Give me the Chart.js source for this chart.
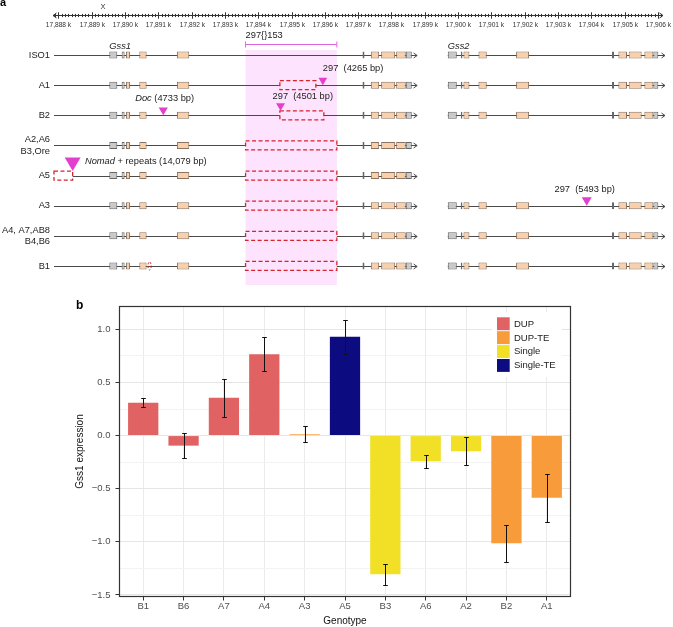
<!DOCTYPE html>
<html>
<head>
<meta charset="utf-8">
<script src="https://cdn.jsdelivr.net/npm/chart.js@4.4.0/dist/chart.umd.min.js"></script>
<style>
html, body { margin: 0; padding: 0; background: #fff; }
#wrap { position: relative; width: 673px; height: 627px; }
#geneBox { position: absolute; left: 0; top: 0; width: 673px; height: 290px; }
#barBox { position: absolute; left: 0; top: 290px; width: 673px; height: 337px; }
</style>
</head>
<body>
<div id="wrap">
  <div id="geneBox"><canvas id="geneCanvas"></canvas></div>
  <div id="barBox"><canvas id="barCanvas"></canvas></div>
</div>
<script>
Chart.defaults.font.family = "'Liberation Sans', Arial, Helvetica, sans-serif";
Chart.defaults.color = '#333';

// ---- panel a : gene models (positions in kb) ----
var rowLabels = [['ISO1'], ['A1'], ['B2'], ['A2,A6', 'B3,Ore'], ['A5'], ['A3'], ['A4, A7,AB8', 'B4,B6'], ['B1']];
var hasGss2 = [1, 1, 1, 0, 0, 1, 1, 1];
var axisMin = 17887.84, axisMax = 17906.15;
var chromName = 'X', chromLabelAt = 17889.34;

var gss1LineStart = 17887.87, gss1LineEnd = 17898.77;
var gss1ExonStart = [17889.53, 17889.90, 17890.03, 17890.43, 17891.56, 17897.13, 17897.38, 17897.69, 17898.14, 17898.43];
var gss1ExonEnd   = [17889.77, 17889.99, 17890.15, 17890.65, 17891.93, 17897.19, 17897.63, 17898.11, 17898.43, 17898.61];
var gss1ExonUtr   = [1, 1, 0, 0, 0, 1, 0, 0, 0, 1];

var gss2LineEnd = 17906.21;
var gss2ExonStart = [17899.69, 17900.08, 17900.16, 17900.61, 17901.74, 17904.62, 17904.81, 17905.12, 17905.59, 17905.86];
var gss2ExonEnd   = [17899.96, 17900.13, 17900.34, 17900.86, 17902.13, 17904.68, 17905.07, 17905.51, 17905.86, 17906.01];
var gss2ExonUtr   = [1, 1, 0, 0, 0, 1, 0, 0, 0, 1];

var regionStart = 17893.62, regionEnd = 17896.36, regionLabel = '297{}153';

// structural variants (dashed boxes)
var svRow   = [1, 2, 3, 4, 4, 5, 6, 7];
var svStart = [17894.65, 17894.65, 17893.62, 17887.87, 17893.62, 17893.62, 17893.62, 17893.62];
var svEnd   = [17895.73, 17895.97, 17896.36, 17888.43, 17896.36, 17896.36, 17896.36, 17896.36];
var smallDelRow = 7, smallDelAt = 17890.74;

// TE insertions
var insRow  = [1, 2, 2, 4, 5];
var insPos  = [17895.94, 17894.67, 17891.15, 17888.43, 17903.86];
var insName = ['297', '297', 'Doc', 'Nomad', '297'];
var insNote = ['', '', '', ' + repeats', ''];
var insBp   = [4265, 4501, 4733, 14079, 5493];

// ---- panel b : expression ----
var genotypes    = ['B1', 'B6', 'A7', 'A4', 'A3', 'A5', 'B3', 'A6', 'A2', 'B2', 'A1'];
var expression   = [0.31, -0.095, 0.355, 0.765, 0.012, 0.93, -1.305, -0.242, -0.148, -1.013, -0.585];
var expressionSE = [0.04, 0.12, 0.18, 0.16, 0.075, 0.16, 0.10, 0.06, 0.13, 0.175, 0.227];
var groupOf      = ['DUP', 'DUP', 'DUP', 'DUP', 'DUP-TE', 'Single-TE', 'Single', 'Single', 'Single', 'DUP-TE', 'DUP-TE'];
var groups       = ['DUP', 'DUP-TE', 'Single', 'Single-TE'];
var groupColors  = ['#e16262', '#f89c3b', '#f1e026', '#0d0b80'];
var yTicks       = [-1.5, -1.0, -0.5, 0.0, 0.5, 1.0];

var FONT = "'Liberation Sans', Arial, Helvetica, sans-serif";

function seg(ctx, x0, y0, x1, y1) {
  ctx.beginPath(); ctx.moveTo(x0, y0); ctx.lineTo(x1, y1); ctx.stroke();
}

function chevron(ctx, x, y, dir) {
  ctx.beginPath();
  ctx.moveTo(x - dir * 3.5, y - 2.5);
  ctx.lineTo(x, y);
  ctx.lineTo(x - dir * 3.5, y + 2.5);
  ctx.stroke();
}

function cutOut(span, cuts) {
  var out = [], cur = span[0];
  cuts.sort(function (a, b) { return a[0] - b[0]; });
  cuts.forEach(function (c) {
    if (c[0] > cur) out.push([cur, Math.min(c[0], span[1])]);
    cur = Math.max(cur, c[1]);
  });
  if (cur < span[1]) out.push([cur, span[1]]);
  return out;
}

function bpText(n) {
  return (n >= 10000 ? n.toLocaleString('en-US') : String(n)) + ' bp';
}

function exonSets(starts, ends, utr, present) {
  return starts.map(function (s, k) {
    return {
      data: rowLabels.map(function (l, r) { return present[r] ? [s, ends[k]] : null; }),
      backgroundColor: utr[k] ? '#c9c9c9' : '#f9d0aa',
      borderColor: utr[k] ? '#666666' : '#8b7462',
      borderWidth: 1,
      borderSkipped: false,
      grouped: false,
      maxBarThickness: 7
    };
  });
}

var geneArt = {
  id: 'geneArt',
  beforeDatasetsDraw: function (chart) {
    var ctx = chart.ctx, xs = chart.scales.x, ys = chart.scales.y;
    var yFirst = ys.getPixelForValue(0), yLast = ys.getPixelForValue(rowLabels.length - 1);
    var r0 = xs.getPixelForValue(regionStart), r1 = xs.getPixelForValue(regionEnd);
    ctx.save();
    ctx.fillStyle = '#fde3fd';
    ctx.fillRect(r0, yFirst - 5, r1 - r0, yLast - yFirst + 24);

    ctx.strokeStyle = '#dd66dd';
    ctx.lineWidth = 1;
    var by = Math.round(yFirst - 11) + 0.5;
    seg(ctx, r0, by, r1, by);
    seg(ctx, r0, by - 3, r0, by + 3);
    seg(ctx, r1, by - 3, r1, by + 3);
    ctx.fillStyle = '#222';
    ctx.font = '9.3px ' + FONT;
    ctx.textAlign = 'left';
    ctx.textBaseline = 'middle';
    ctx.fillText(regionLabel, r0, yFirst - 20);

    ctx.font = 'italic 9.3px ' + FONT;
    ctx.fillText('Gss1', xs.getPixelForValue(gss1ExonStart[0]), yFirst - 9);
    ctx.fillText('Gss2', xs.getPixelForValue(gss2ExonStart[0]), yFirst - 9);

    ctx.strokeStyle = '#4a4a4a';
    rowLabels.forEach(function (lab, r) {
      var y = Math.round(ys.getPixelForValue(r)) + 0.5;
      var cuts = [];
      svRow.forEach(function (sr, i) { if (sr === r) cuts.push([svStart[i], svEnd[i]]); });
      cutOut([gss1LineStart, gss1LineEnd], cuts).forEach(function (s) {
        seg(ctx, xs.getPixelForValue(s[0]), y, xs.getPixelForValue(s[1]), y);
      });
      chevron(ctx, xs.getPixelForValue(gss1LineEnd), y, 1);
      if (hasGss2[r]) {
        seg(ctx, xs.getPixelForValue(gss2ExonStart[0]), y, xs.getPixelForValue(gss2LineEnd), y);
        chevron(ctx, xs.getPixelForValue(gss2LineEnd), y, 1);
      }
    });

    ctx.strokeStyle = '#d8232a';
    ctx.lineWidth = 1.3;
    ctx.setLineDash([4, 2.5]);
    svRow.forEach(function (r, i) {
      var y = ys.getPixelForValue(r);
      var x0 = xs.getPixelForValue(svStart[i]), x1 = xs.getPixelForValue(svEnd[i]);
      ctx.strokeRect(x0, y - 4.5, x1 - x0, 9);
    });
    ctx.beginPath();
    ctx.ellipse(xs.getPixelForValue(smallDelAt), ys.getPixelForValue(smallDelRow), 1.6, 4, 0, 0, Math.PI * 2);
    ctx.setLineDash([2, 1.5]);
    ctx.lineWidth = 1;
    ctx.stroke();
    ctx.restore();
  },
  afterDatasetsDraw: function (chart) {
    var ctx = chart.ctx, xs = chart.scales.x, ys = chart.scales.y;
    var place = [
      { align: 'left', dx: 0, dy: -17 },
      { align: 'left', dx: -8, dy: -18.5 },
      { align: 'center', dx: 1.4, dy: -16.5 },
      { align: 'left', dx: 12.3, dy: -14.4 },
      { align: 'center', dx: -2, dy: -16 }
    ];
    ctx.save();
    insPos.forEach(function (p, i) {
      var x = xs.getPixelForValue(p), y = ys.getPixelForValue(insRow[i]);
      var onBox = svRow.some(function (r, k) {
        return r === insRow[i] && p >= svStart[k] - 0.05 && p <= svEnd[k] + 0.05;
      });
      var tip = onBox ? y - 4.5 : y;
      var w = 9 * Math.sqrt(insBp[i] / 4500), h = w * 0.85;
      ctx.fillStyle = '#e23fcf';
      ctx.beginPath();
      ctx.moveTo(x - w / 2, tip - h);
      ctx.lineTo(x + w / 2, tip - h);
      ctx.lineTo(x, tip);
      ctx.closePath();
      ctx.fill();

      var italic = isNaN(Number(insName[i]));
      var pieces = [
        { t: insName[i], f: (italic ? 'italic ' : '') + '9.3px ' + FONT },
        { t: insNote[i] + (italic ? ' ' : '  ') + '(' + bpText(insBp[i]) + ')', f: '9.3px ' + FONT }
      ];
      var total = 0;
      pieces.forEach(function (pc) { ctx.font = pc.f; pc.w = ctx.measureText(pc.t).width; total += pc.w; });
      var lx = place[i].align === 'center' ? x + place[i].dx - total / 2 : x + place[i].dx;
      var ly = y + place[i].dy;
      ctx.fillStyle = '#222';
      ctx.textAlign = 'left';
      ctx.textBaseline = 'middle';
      pieces.forEach(function (pc) { ctx.font = pc.f; ctx.fillText(pc.t, lx, ly); lx += pc.w; });
    });
    ctx.restore();
  },
  afterDraw: function (chart) {
    var ctx = chart.ctx, xs = chart.scales.x, a = chart.chartArea;
    var ay = Math.round(a.top - 25) + 0.5;
    ctx.save();
    ctx.strokeStyle = '#333';
    ctx.lineWidth = 1;
    seg(ctx, a.left, ay, a.right, ay);
    chevron(ctx, a.left, ay, -1);
    chevron(ctx, a.right, ay, 1);
    ctx.fillStyle = '#333';
    ctx.font = '6.6px ' + FONT;
    ctx.textAlign = 'center';
    ctx.textBaseline = 'middle';
    for (var t = Math.ceil(axisMin * 10); t <= Math.floor(axisMax * 10); t++) {
      var v = t / 10, px = Math.round(xs.getPixelForValue(v)) + 0.5;
      var major = t % 10 === 0, len = major ? 3.2 : 1.6;
      seg(ctx, px, ay - len, px, ay + len);
      if (major) ctx.fillText(Math.round(v).toLocaleString('en-US') + ' k', px, ay + 10);
    }
    ctx.font = '7.5px ' + FONT;
    ctx.fillText(chromName, xs.getPixelForValue(chromLabelAt), ay - 8.5);
    ctx.font = 'bold 11px ' + FONT;
    ctx.textAlign = 'left';
    ctx.fillStyle = '#000';
    ctx.fillText('a', 0, 2.5);
    ctx.restore();
  }
};

var allRows = rowLabels.map(function () { return 1; });

new Chart(document.getElementById('geneCanvas'), {
  type: 'bar',
  data: {
    labels: rowLabels,
    datasets: exonSets(gss1ExonStart, gss1ExonEnd, gss1ExonUtr, allRows)
      .concat(exonSets(gss2ExonStart, gss2ExonEnd, gss2ExonUtr, hasGss2))
  },
  options: {
    indexAxis: 'y',
    responsive: true,
    maintainAspectRatio: false,
    animation: false,
    devicePixelRatio: 1,
    layout: { padding: { top: 40, bottom: 9, left: 0, right: 10 } },
    scales: {
      x: { type: 'linear', min: axisMin, max: axisMax, display: false },
      y: {
        type: 'category',
        offset: true,
        grid: { display: false, drawTicks: false },
        border: { display: false },
        ticks: { font: { size: 9.3 }, color: '#222', padding: 3 },
        afterFit: function (s) { s.width = 53; }
      }
    },
    plugins: { legend: { display: false }, tooltip: { enabled: false } }
  },
  plugins: [geneArt]
});

// ---- panel b ----
function isMajorY(v) {
  return yTicks.some(function (t) { return Math.abs(t - v) < 1e-9; });
}

var barExtras = {
  id: 'barExtras',
  afterDatasetsDraw: function (chart) {
    var ctx = chart.ctx, xs = chart.scales.x, ys = chart.scales.y;
    ctx.save();
    ctx.strokeStyle = '#111';
    ctx.lineWidth = 1;
    genotypes.forEach(function (g, i) {
      var x = Math.round(xs.getPixelForValue(i)) + 0.5;
      var yt = Math.round(ys.getPixelForValue(expression[i] + expressionSE[i])) + 0.5;
      var yb = Math.round(ys.getPixelForValue(expression[i] - expressionSE[i])) + 0.5;
      ctx.beginPath();
      ctx.moveTo(x, yt); ctx.lineTo(x, yb);
      ctx.moveTo(x - 2.3, yt); ctx.lineTo(x + 2.3, yt);
      ctx.moveTo(x - 2.3, yb); ctx.lineTo(x + 2.3, yb);
      ctx.stroke();
    });
    ctx.restore();
  },
  afterDraw: function (chart) {
    var ctx = chart.ctx, a = chart.chartArea;
    ctx.save();
    ctx.strokeStyle = '#333';
    ctx.lineWidth = 1.2;
    ctx.strokeRect(a.left + 0.5, a.top + 0.5, a.right - a.left - 1, a.bottom - a.top - 1);

    var kx = a.right - 74, ky = a.top + 11.3, step = 13.9;
    ctx.fillStyle = '#fff';
    ctx.fillRect(kx - 5, ky - 5, 70, groups.length * step + 9);
    ctx.font = '9.5px ' + FONT;
    ctx.textAlign = 'left';
    ctx.textBaseline = 'middle';
    groups.forEach(function (g, i) {
      ctx.fillStyle = groupColors[i];
      ctx.fillRect(kx, ky + i * step, 12.7, 12.9);
      ctx.fillStyle = '#222';
      ctx.fillText(g, kx + 17, ky + i * step + 6.7);
    });

    ctx.fillStyle = '#000';
    ctx.font = 'bold 12px ' + FONT;
    ctx.fillText('b', 76, 15.5);
    ctx.restore();
  }
};

new Chart(document.getElementById('barCanvas'), {
  type: 'bar',
  data: {
    datasets: groups.map(function (g, gi) {
      return {
        label: g,
        data: genotypes.map(function (name, i) { return { x: i, y: expression[i] }; })
          .filter(function (p, i) { return groupOf[i] === g; }),
        backgroundColor: groupColors[gi],
        borderWidth: 0,
        barPercentage: 0.75,
        categoryPercentage: 1
      };
    })
  },
  options: {
    responsive: true,
    maintainAspectRatio: false,
    animation: false,
    devicePixelRatio: 1,
    layout: { padding: { top: 16, bottom: 0, left: 68, right: 102 } },
    scales: {
      x: {
        type: 'linear',
        min: -0.6,
        max: 10.6,
        offset: false,
        stacked: true,
        afterBuildTicks: function (s) { s.ticks = genotypes.map(function (g, i) { return { value: i }; }); },
        afterFit: function (s) { s.height = 30; },
        ticks: {
          autoSkip: false,
          maxRotation: 0,
          padding: 0,
          color: '#4d4d4d',
          font: { size: 9.5 },
          callback: function (v) { return genotypes[v]; }
        },
        grid: { offset: false, color: '#ebebeb', tickColor: '#333', tickLength: 3.5 },
        border: { display: false },
        title: { display: true, text: 'Genotype', color: '#111', font: { size: 10 }, padding: { top: 0, bottom: 0 } }
      },
      y: {
        min: -1.52,
        max: 1.22,
        stacked: true,
        afterBuildTicks: function (s) {
          var t = [];
          yTicks.forEach(function (v, i) {
            t.push({ value: v });
            if (i < yTicks.length - 1) t.push({ value: (v + yTicks[i + 1]) / 2 });
          });
          s.ticks = t;
        },
        afterFit: function (s) { s.width = 51; },
        ticks: {
          padding: 5,
          color: '#4d4d4d',
          font: { size: 9.5 },
          callback: function (v) { return isMajorY(v) ? v.toFixed(1).replace('-', '\u2212') : ''; }
        },
        grid: {
          color: function (c) { return isMajorY(c.tick.value) ? '#e6e6e6' : '#f3f3f3'; },
          tickColor: function (c) { return isMajorY(c.tick.value) ? '#333' : 'rgba(0,0,0,0)'; },
          tickLength: 3.5
        },
        border: { display: false },
        title: { display: true, text: 'Gss1 expression', color: '#111', font: { size: 10 }, padding: { top: 6, bottom: 0 } }
      }
    },
    plugins: { legend: { display: false }, tooltip: { enabled: false } }
  },
  plugins: [barExtras]
});
</script>
</body>
</html>
